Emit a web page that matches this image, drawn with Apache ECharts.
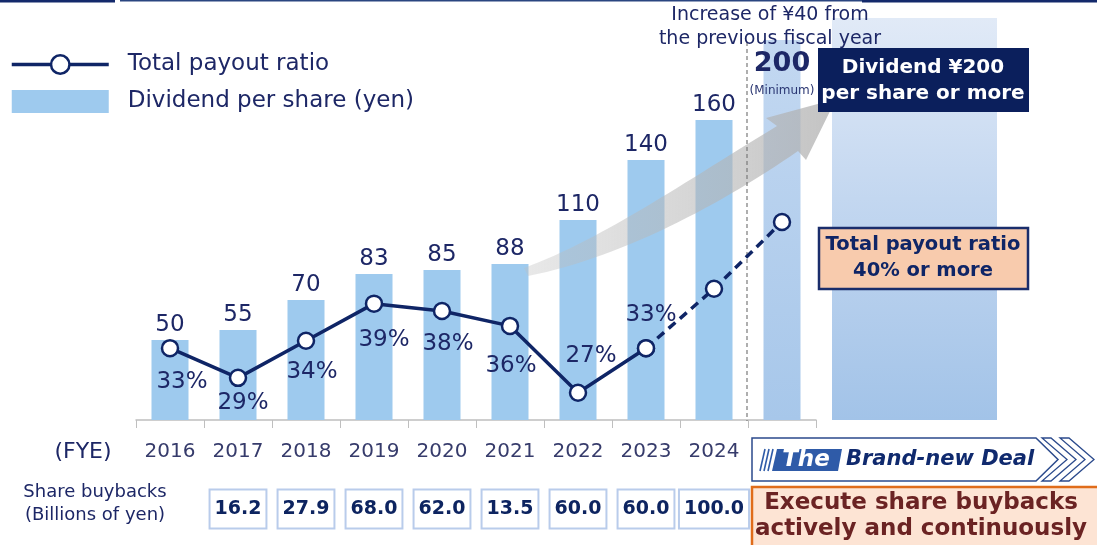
<!DOCTYPE html>
<html><head><meta charset="utf-8">
<script src="https://cdn.jsdelivr.net/npm/echarts@6/dist/echarts.min.js"></script>
<style>html,body{margin:0;padding:0;background:#fff}#c{width:1097px;height:545px}</style>
</head><body><div id="c"></div>
<script>
// ---- data ----
const categories = ['2016','2017','2018','2019','2020','2021','2022','2023','2024','2025'];
const yearLabels = ['2016','2017','2018','2019','2020','2021','2022','2023','2024',''];
const dividends = [50, 55, 70, 83, 85, 88, 110, 140, 160, 200];
const payoutActual = [33, 29, 34, 39, 38, 36, 27, 33, null, null];
const payoutPlan = [null, null, null, null, null, null, null, 33, 41, 50];
const buybacks = [null, 16.2, 27.9, 68.0, 62.0, 13.5, 60.0, 60.0, 100.0, null];

// ---- styling ----
const NAVY = '#0f2566';
const TXT = '#1d2766';
const FONT = 'DejaVu Sans';
const payoutLabelOffsets = [[12,34],[5,25],[6,31],[10,36],[6,33],[1,40],[13,-37],[5,-33]];

const chart = echarts.init(document.getElementById('c'), null, {renderer: 'canvas'});

// gray arrow outline (decoration) sampled from cubic curves
function cubic(p0, p1, p2, p3, n) {
  const pts = [];
  for (let k = 0; k <= n; k++) {
    const t = k / n, u = 1 - t;
    pts.push([
      u*u*u*p0[0] + 3*u*u*t*p1[0] + 3*u*t*t*p2[0] + t*t*t*p3[0],
      u*u*u*p0[1] + 3*u*u*t*p1[1] + 3*u*t*t*p2[1] + t*t*t*p3[1]
    ]);
  }
  return pts;
}
const arrowPts = [].concat(
  cubic([524,268],[600,240],[680,185],[777,126], 30),
  [[766,118],[836,99],[806,160]],
  cubic([798,151],[720,205],[620,258],[528,276], 30)
);

const barData = dividends.map((v, i) => {
  if (i === dividends.length - 1) {
    return {
      value: v,
      itemStyle: {color: new echarts.graphic.LinearGradient(0,0,0,1,[{offset:0,color:'#c3d8f1'},{offset:1,color:'#a7c7ea'}])},
      label: {
        position: 'insideTop', distance: 5,
        formatter: '{a|{c}}\n{b|(Minimum)}',
        rich: {
          a: {fontSize: 27, fontWeight: 'bold', color: TXT, lineHeight: 38, fontFamily: FONT},
          b: {fontSize: 12, color: '#2a3672', lineHeight: 16, fontFamily: FONT}
        }
      }
    };
  }
  return v;
});

const actualData = payoutActual.map((v, i) => v == null ? null : {value: v, label: {offset: payoutLabelOffsets[i]}});

const option = {
  animation: false,
  textStyle: {fontFamily: FONT},
  grid: {left: 136, right: 281, top: 18, bottom: 125, containLabel: false},
  legend: {
    orient: 'vertical', left: 10, top: 53, padding: 0,
    itemWidth: 97, itemHeight: 23, itemGap: 14,
    selectedMode: false,
    textStyle: {fontSize: 23, color: TXT, fontFamily: FONT, padding: [0,0,0,14]},
    data: [
      {name: 'Total payout ratio', lineStyle: {width: 3.5, color: NAVY},
        itemStyle: {color: '#fff', borderColor: NAVY, borderWidth: 2.5}},
      {name: 'Dividend per share (yen)', icon: 'rect'}
    ]
  },
  xAxis: [
    {
      type: 'category', data: categories, gridIndex: 0,
      axisLine: {lineStyle: {color: '#bfbfbf', width: 1.5}},
      axisTick: {show: true, length: 8, lineStyle: {color: '#bfbfbf'}},
      axisLabel: {interval: 0, margin: 22, fontSize: 20, color: '#363b6b',
        formatter: (v, i) => yearLabels[i]}
    },
    {
      type: 'category', data: categories, gridIndex: 0, position: 'bottom',
      axisLine: {show: false}, axisTick: {show: false},
      axisLabel: {interval: 0, margin: 78,
        formatter: (v, i) => buybacks[i] == null ? '' : '{b|' + buybacks[i].toFixed(1) + '}',
        rich: {b: {fontSize: 19, fontWeight: 'bold', color: '#0d2460', fontFamily: FONT,
          backgroundColor: '#fff', borderColor: '#b9cceb', borderWidth: 2,
          padding: [9, 4, 9, 4], lineHeight: 22}}
      }
    }
  ],
  yAxis: [
    {type: 'value', min: 10, max: 211, show: false, splitLine: {show: false}},
    {type: 'value', min: 23.32, max: 77.49, show: false, splitLine: {show: false}}
  ],
  series: [
    {
      name: 'Dividend per share (yen)', type: 'bar', xAxisIndex: 0, yAxisIndex: 0,
      barWidth: 37, z: 2,
      itemStyle: {color: '#9ecaee'},
      label: {show: true, position: 'top', distance: 3, fontSize: 23, color: TXT, fontFamily: FONT},
      data: barData
    },
    {
      name: 'Plan', type: 'line', xAxisIndex: 0, yAxisIndex: 1, z: 5,
      data: payoutPlan, symbol: 'circle', symbolSize: 16,
      lineStyle: {width: 3.5, color: NAVY, type: [9, 6]},
      itemStyle: {color: '#fff', borderColor: NAVY, borderWidth: 2.5}
    },
    {
      name: 'Total payout ratio', type: 'line', xAxisIndex: 0, yAxisIndex: 1, z: 6,
      data: actualData, symbol: 'circle', symbolSize: 16,
      lineStyle: {width: 3.5, color: NAVY},
      itemStyle: {color: '#fff', borderColor: NAVY, borderWidth: 2.5},
      label: {show: true, position: 'inside', formatter: '{c}%', fontSize: 23, color: TXT, fontFamily: FONT}
    }
  ],
  graphic: [
    // top border
    {type: 'rect', shape: {x: 0, y: 0, width: 115, height: 2.5}, style: {fill: '#13296b'}, z: 10},
    {type: 'rect', shape: {x: 120, y: 0, width: 742, height: 1.5}, style: {fill: '#2a4580'}, z: 10},
    {type: 'rect', shape: {x: 862, y: 0, width: 235, height: 2.5}, style: {fill: '#13296b'}, z: 10},
    // target region box
    {type: 'rect', shape: {x: 832, y: 18, width: 165, height: 402},
      style: {fill: new echarts.graphic.LinearGradient(0,0,0,1,[{offset:0,color:'#e1eaf7'},{offset:0.45,color:'#c3d7f0'},{offset:1,color:'#a2c3e8'}])}, z: 1},
    // gray arrow
    {type: 'polygon', shape: {points: arrowPts},
      style: {fill: new echarts.graphic.LinearGradient(0,0,1,0,[{offset:0,color:'rgba(190,190,190,0.35)'},{offset:1,color:'rgba(175,175,175,0.75)'}])}, z: 3},
    // dashed separator
    {type: 'line', shape: {x1: 747, y1: 42, x2: 747, y2: 421}, style: {stroke: '#7a7a7a', lineWidth: 1.2, lineDash: [4, 3]}, z: 4},
    // increase note
    {type: 'text', x: 770, y: 3, style: {text: 'Increase of ¥40 from\nthe previous fiscal year', fontSize: 19, fontFamily: FONT,
      fill: TXT, align: 'center', verticalAlign: 'top', lineHeight: 24}, z: 10},
    // dividend target box
    {type: 'rect', shape: {x: 818, y: 48, width: 211, height: 64}, style: {fill: '#0b1f5c'}, z: 8},
    {type: 'text', x: 923, y: 55, style: {text: 'Dividend ¥200\nper share or more', fontSize: 20, fontWeight: 'bold', fontFamily: FONT,
      fill: '#fff', align: 'center', verticalAlign: 'top', lineHeight: 26}, z: 9},
    // payout target box
    {type: 'rect', shape: {x: 819, y: 228, width: 209, height: 61}, style: {fill: '#f8cbad', stroke: '#1a2d6b', lineWidth: 2.5}, z: 8},
    {type: 'text', x: 923, y: 232, style: {text: 'Total payout ratio\n40% or more', fontSize: 19.5, fontWeight: 'bold', fontFamily: FONT,
      fill: '#0f2566', align: 'center', verticalAlign: 'top', lineHeight: 26}, z: 9},
    // brand-new deal banner
    {type: 'polygon', shape: {points: [[752,438],[1036,438],[1058,459.5],[1036,481],[752,481]]}, style: {fill: '#fff', stroke: '#2b4a8c', lineWidth: 1.5}, z: 8},
    {type: 'polygon', shape: {points: [[1042,438],[1051,438],[1076,459.5],[1051,481],[1042,481],[1067,459.5]]}, style: {fill: '#fff', stroke: '#2b4a8c', lineWidth: 1.3}, z: 8},
    {type: 'polygon', shape: {points: [[1060,438],[1069,438],[1094,459.5],[1069,481],[1060,481],[1085,459.5]]}, style: {fill: '#fff', stroke: '#2b4a8c', lineWidth: 1.3}, z: 8},
    {type: 'line', shape: {x1: 760, y1: 471, x2: 765, y2: 449}, style: {stroke: '#2f5ba8', lineWidth: 1.6}, z: 9},
    {type: 'line', shape: {x1: 764, y1: 471, x2: 769, y2: 449}, style: {stroke: '#2f5ba8', lineWidth: 1.6}, z: 9},
    {type: 'line', shape: {x1: 768, y1: 471, x2: 773, y2: 449}, style: {stroke: '#2f5ba8', lineWidth: 1.6}, z: 9},
    {type: 'polygon', shape: {points: [[777,449],[842,449],[838,471],[772,471]]}, style: {fill: '#2f5ba8'}, z: 9},
    {type: 'text', x: 806, y: 460, style: {text: 'The', fontSize: 23, fontWeight: 'bold', fontStyle: 'italic', fontFamily: FONT,
      fill: '#fff', align: 'center', verticalAlign: 'middle'}, z: 10},
    {type: 'text', x: 846, y: 460, style: {text: 'Brand-new Deal', fontSize: 21, fontWeight: 'bold', fontStyle: 'italic', fontFamily: FONT,
      fill: '#102a6e', align: 'left', verticalAlign: 'middle'}, z: 10},
    // buyback policy box
    {type: 'rect', shape: {x: 752, y: 487, width: 360, height: 70}, style: {fill: '#fde4d4', stroke: '#e06c1a', lineWidth: 2.5}, z: 8},
    {type: 'text', x: 921, y: 490, style: {text: 'Execute share buybacks\nactively and continuously', fontSize: 23, fontWeight: 'bold', fontFamily: FONT,
      fill: '#6b2323', align: 'center', verticalAlign: 'top', lineHeight: 26}, z: 9},
    // left side captions
    {type: 'text', x: 83, y: 452, style: {text: '(FYE)', fontSize: 22, fontFamily: FONT, fill: TXT, align: 'center', verticalAlign: 'middle'}, z: 9},
    {type: 'text', x: 95, y: 481, style: {text: 'Share buybacks\n(Billions of yen)', fontSize: 18, fontFamily: FONT, fill: TXT,
      align: 'center', verticalAlign: 'top', lineHeight: 23}, z: 9}
  ]
};
chart.setOption(option);
</script>
</body></html>
